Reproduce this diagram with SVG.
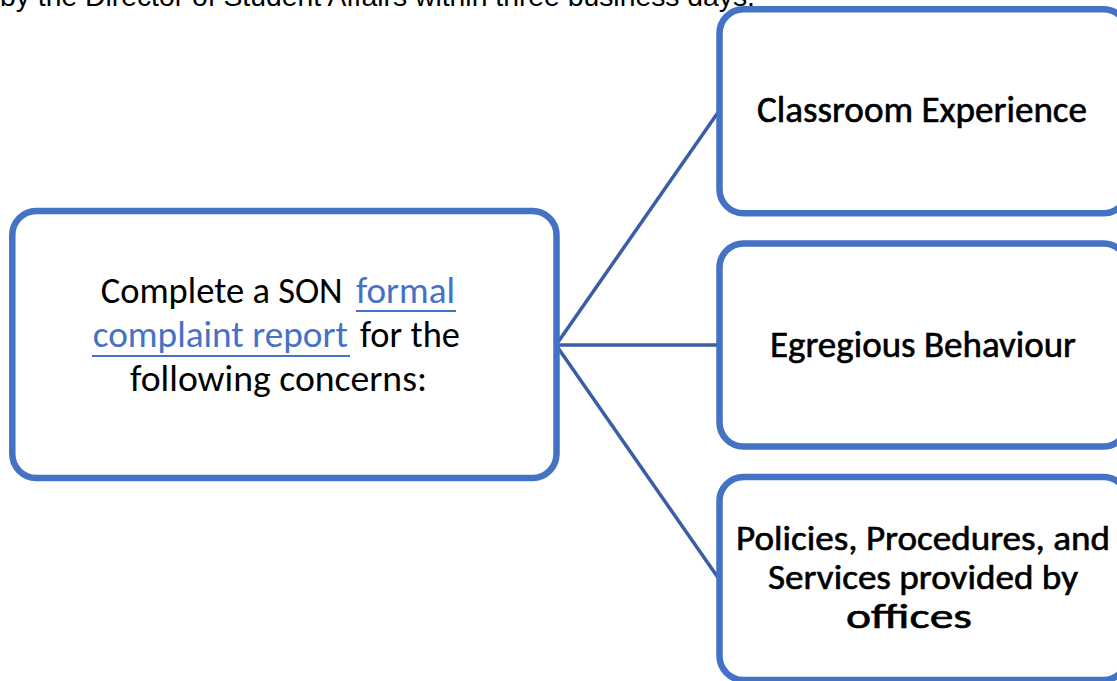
<svg xmlns="http://www.w3.org/2000/svg" width="1117" height="681" viewBox="0 0 1117 681">
  <style>
    .box { fill: #ffffff; stroke: #4472C4; stroke-width: 6.5; }
    .conn { stroke: #3A5DA6; stroke-width: 3.5; fill: none; }
    .t { font-family: Carlito, Lato, "Open Sans", sans-serif; font-size: 37px; fill: #000000; }
    .s { font-size: 34px; }
    .link { fill: #4472C4; }
    .ul { stroke: #4472C4; stroke-width: 2; }
    .b { stroke: #000000; stroke-width: 0.6; }
    .top { font-family: "Liberation Sans", Arial, sans-serif; font-size: 28px; fill: #000000; }
  </style>
  <rect width="1117" height="681" fill="#ffffff"/>
  <text class="top" x="0" y="6" textLength="755" lengthAdjust="spacingAndGlyphs">by the Director of Student Affairs within three business days.</text>

  <g id="connectors">
    <line class="conn" x1="556" y1="345" x2="719" y2="111"/>
    <line class="conn" x1="556" y1="345" x2="719" y2="345"/>
    <line class="conn" x1="556" y1="345" x2="719" y2="579"/>
  </g>

  <g id="node-main">
    <rect class="box" x="12.3" y="211" width="544.2" height="267" rx="24" ry="24"/>
    <text class="t" x="100.7" y="303" textLength="242" lengthAdjust="spacingAndGlyphs">Complete a SON</text>
    <text class="t link" x="356" y="303" textLength="99" lengthAdjust="spacingAndGlyphs">formal</text>
    <line class="ul" x1="356" y1="311" x2="456" y2="311"/>
    <text class="t link" x="92.7" y="347" textLength="255.3" lengthAdjust="spacingAndGlyphs">complaint report</text>
    <line class="ul" x1="92" y1="356" x2="350" y2="356"/>
    <text class="t" x="360" y="347" textLength="100" lengthAdjust="spacingAndGlyphs">for the</text>
    <text class="t" x="130" y="391" textLength="297" lengthAdjust="spacingAndGlyphs">following concerns:</text>
  </g>

  <g id="node-classroom">
    <rect class="box" x="719.5" y="9.3" width="408" height="204" rx="24" ry="24"/>
    <text class="t b" x="757" y="122" textLength="330" lengthAdjust="spacingAndGlyphs">Classroom Experience</text>
  </g>

  <g id="node-egregious">
    <rect class="box" x="719.5" y="243.5" width="408" height="203" rx="24" ry="24"/>
    <text class="t b" x="770" y="357" textLength="306" lengthAdjust="spacingAndGlyphs">Egregious Behaviour</text>
  </g>

  <g id="node-policies">
    <rect class="box" x="719.5" y="477" width="408" height="203" rx="24" ry="24"/>
    <text class="t s b" x="736" y="550" textLength="374" lengthAdjust="spacingAndGlyphs">Policies, Procedures, and</text>
    <text class="t s b" x="768" y="589" textLength="310" lengthAdjust="spacingAndGlyphs">Services provided by</text>
    <text class="t s b" x="846" y="628" textLength="126" lengthAdjust="spacingAndGlyphs">offices</text>
  </g>
</svg>
